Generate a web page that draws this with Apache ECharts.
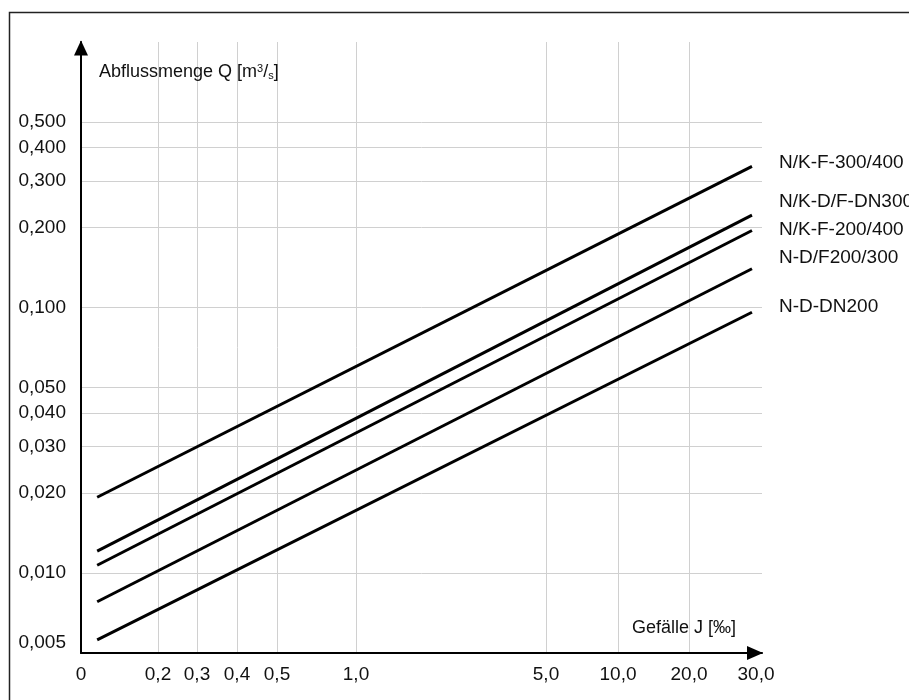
<!DOCTYPE html>
<html><head><meta charset="utf-8">
<script src="https://cdn.jsdelivr.net/npm/echarts@6/dist/echarts.min.js"></script>
<style>html,body{margin:0;padding:0;background:#fff}#c{width:909px;height:700px}</style>
</head><body><div id="c"></div>
<script>
// ---- data ----
const seriesNames = ['N/K-F-300/400', 'N/K-D/F-DN300', 'N/K-F-200/400', 'N-D/F200/300', 'N-D-DN200'];
const lineJ = [0.042, 29.4];                       // Gefälle J [‰] at start / end of each line
const qStart = [0.0193, 0.0121, 0.0107, 0.0078, 0.0056];  // Q [m³/s] at J start
const qEnd = [0.34, 0.223, 0.195, 0.140, 0.096];          // Q [m³/s] at J end
const xTickValues = [0, 0.2, 0.3, 0.4, 0.5, 1.0, 5.0, 10.0, 20.0, 30.0];
const xGridValues = [0.2, 0.3, 0.4, 0.5, 1.0, 5.0, 10.0, 20.0];
const yTickValues = [0.005, 0.01, 0.02, 0.03, 0.04, 0.05, 0.1, 0.2, 0.3, 0.4, 0.5];
const yGridValues = [0.01, 0.02, 0.03, 0.04, 0.05, 0.1, 0.2, 0.3, 0.4, 0.5];

// schematic (non-uniform) scale of the original J axis: J value -> axis unit
const xScaleStops = [[0, 0], [0.2, 77], [0.3, 116], [0.4, 156], [0.5, 196], [1, 275], [5, 465], [10, 537], [20, 608], [30, 675]];
function toX(j) {
  const s = xScaleStops;
  let k = 0;
  while (k < s.length - 2 && j > s[k + 1][0]) k++;
  const a = s[k], b = s[k + 1];
  return a[1] + (j - a[0]) / (b[0] - a[0]) * (b[1] - a[1]);
}
function fmtJ(j) { return j === 0 ? '0' : j.toFixed(1).replace('.', ','); }
function fmtQ(q) { return q.toFixed(3).replace('.', ','); }

// styling
const FONT = "'Liberation Sans', Arial, sans-serif";
const endLabelNudge = [-4, -13, -1, -11, -5];

const chart = echarts.init(document.getElementById('c'), null, { renderer: 'canvas' });
chart.setOption({
  animation: false,
  backgroundColor: '#fff',
  textStyle: { fontFamily: FONT },
  grid: { left: 81, right: 147, top: 42, bottom: 47, containLabel: false },
  graphic: [{
    type: 'polyline', silent: true,
    shape: { points: [[9.5, 700], [9.5, 12.5], [909, 12.5]] },
    style: { stroke: '#222', lineWidth: 1.5, fill: null }
  }],
  xAxis: {
    type: 'value', min: 0, max: 681,
    axisLine: { show: true, onZero: false, lineStyle: { color: '#000', width: 2 },
      symbol: ['none', 'triangle'], symbolSize: [14, 16], symbolOffset: [0, -7] },
    axisTick: { show: false, customValues: xGridValues.map(toX) },
    splitLine: { show: true, lineStyle: { color: '#d0d0d0', width: 1 } },
    axisLabel: {
      customValues: xTickValues.map(toX),
      formatter: function (v) {
        for (let i = 0; i < xTickValues.length; i++) {
          if (Math.abs(toX(xTickValues[i]) - v) < 0.5) return fmtJ(xTickValues[i]);
        }
        return '';
      },
      margin: 12, fontSize: 19, color: '#111', fontFamily: FONT
    },
    name: 'Gefälle J [‰]', nameLocation: 'end', nameGap: -26,
    nameTextStyle: { align: 'right', verticalAlign: 'bottom', padding: [0, 0, 16, 0],
      fontSize: 18, color: '#111', fontFamily: FONT }
  },
  yAxis: {
    type: 'log', logBase: 10, min: 0.005, max: 1,
    axisLine: { show: true, onZero: false, lineStyle: { color: '#000', width: 2 },
      symbol: ['none', 'triangle'], symbolSize: [14, 15], symbolOffset: [0, -6] },
    axisTick: { show: false, customValues: yGridValues },
    splitLine: { show: true, lineStyle: { color: '#d0d0d0', width: 1 } },
    axisLabel: {
      customValues: yTickValues,
      formatter: function (v) {
        const s = fmtQ(v);
        return Math.abs(v - 0.005) < 1e-6 ? '{low|' + s + '}' : s;
      },
      rich: { low: { padding: [0, 0, 20, 0], fontSize: 19, color: '#111', fontFamily: FONT } },
      margin: 15, fontSize: 19, color: '#111', fontFamily: FONT
    },
    name: 'Abflussmenge Q [m{sup|3}/{sub|s}]', nameLocation: 'end', nameGap: -21,
    nameTextStyle: {
      align: 'left', verticalAlign: 'top', padding: [0, 0, 0, 18],
      fontSize: 18, color: '#111', fontFamily: FONT,
      rich: {
        sup: { fontSize: 11, verticalAlign: 'top', color: '#111', fontFamily: FONT },
        sub: { fontSize: 11, verticalAlign: 'bottom', color: '#111', fontFamily: FONT }
      }
    }
  },
  series: seriesNames.map(function (n, i) {
    return {
      type: 'line', name: n, silent: true, clip: false,
      data: [[toX(lineJ[0]), qStart[i]], [toX(lineJ[1]), qEnd[i]]],
      symbol: 'none',
      lineStyle: { color: '#000', width: 3 },
      endLabel: { show: true, formatter: '{a}', distance: 27, offset: [0, endLabelNudge[i]],
        fontSize: 19, color: '#111', fontFamily: FONT }
    };
  })
});
</script>
</body></html>
